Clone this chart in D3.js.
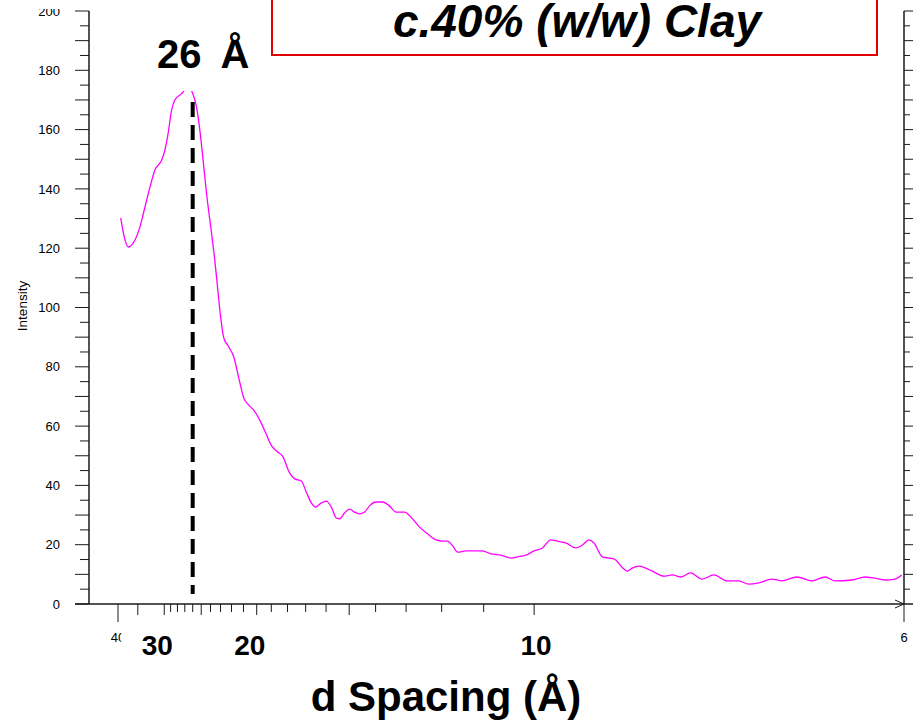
<!DOCTYPE html>
<html>
<head>
<meta charset="utf-8">
<script src="https://cdn.jsdelivr.net/npm/d3@7"></script>
<style>
  body { margin: 0; background: #fff; }
  svg { display: block; font-family: Arial, "Liberation Sans", sans-serif; }
</style>
</head>
<body>
<svg id="chart" width="916" height="722"></svg>
<script>
// XRD trace, intensity against d spacing (angstrom)
const dSpacing = [39.24, 38.08, 37.24, 36.03, 34.53, 33.49, 32.51, 31.59, 30.43, 29.89,
  29.37, 28.85, 28.37, 27.21, 26.67, 26.07, 25.54, 25.16, 24.79, 24.42,
  23.89, 23.56, 23.26, 22.98, 22.69, 22.24, 21.80, 21.38, 20.98, 20.59,
  20.22, 19.79, 19.37, 18.98, 18.60, 18.29, 17.88, 17.59, 17.23, 16.97,
  16.71, 16.50, 16.22, 15.99, 15.76, 15.54, 15.40, 15.19, 14.99, 14.79,
  14.59, 14.40, 14.22, 13.98, 13.75, 13.53, 13.31, 13.05, 12.85, 12.61,
  12.37, 12.15, 11.97, 11.85, 11.72, 11.60, 11.40, 11.03, 10.84, 10.64,
  10.44, 10.31, 10.15, 10.00, 9.853, 9.708, 9.598, 9.461, 9.302, 9.201,
  9.100, 9.026, 8.906, 8.811, 8.742, 8.607, 8.563, 8.498, 8.411, 8.327,
  8.245, 8.105, 8.008, 7.912, 7.801, 7.676, 7.554, 7.420, 7.306, 7.211,
  7.119, 7.000, 6.913, 6.786, 6.664, 6.559, 6.482, 6.359, 6.263, 6.205,
  6.125, 6.059, 6.015];

const intensity = [130.2, 122.8, 120.4, 121.8, 127.2, 133.9, 140.6, 146.4, 149.7, 153.1,
  158.9, 166.6, 170.0, 172.7, 175.4, 172.7, 167.6, 159.9, 149.7, 138.6,
  125.1, 116.0, 105.9, 96.5, 89.7, 86.7, 83.3, 76.2, 69.5, 67.1,
  65.4, 62.1, 57.7, 53.3, 51.3, 49.9, 44.2, 42.2, 41.5, 37.8,
  34.1, 32.7, 34.1, 34.7, 32.7, 29.0, 28.7, 30.7, 32.0, 31.0,
  30.4, 31.0, 33.1, 34.4, 34.4, 33.1, 31.0, 31.0, 29.3, 26.0,
  23.6, 21.6, 21.2, 21.2, 19.6, 17.5, 17.9, 17.9, 16.9, 16.5,
  15.5, 15.9, 16.5, 17.9, 18.9, 21.6, 21.2, 20.6, 18.9, 19.9,
  21.6, 20.6, 15.9, 15.5, 15.2, 11.8, 11.1, 12.1, 12.8, 12.1,
  11.1, 9.4, 9.8, 9.1, 10.5, 8.4, 9.8, 7.8, 7.8, 6.7,
  7.1, 8.4, 7.8, 9.1, 7.8, 9.1, 7.8, 8.1, 9.1, 8.8,
  8.1, 8.4, 9.8];

const dTicks = [40, 35, 30, 29, 28, 27, 26, 25, 24, 23, 22, 21, 20, 19, 18, 17, 16, 15, 14, 13, 12, 11, 10, 6];
const dEndLabels = [40, 6];
const dBigLabels = [30, 20, 10];
const yTicks = d3.range(0, 201, 5);
const yLabels = d3.range(0, 201, 20);
const peakD = 26;
const peakText = "26 Å";
const titleText = "c.40% (w/w) Clay";

const svg = d3.select("#chart");

// x runs linear in 1/d (i.e. in 2-theta), so d falls off to the right
const inv = d3.scaleLinear().domain([1 / 40, 1 / 6]).range([118, 904]);
const x = d => inv(1 / d);
const y = d3.scaleLinear().domain([0, 200]).range([604, 11]);

const axisCol = "#1a1a1a";

/* left axis */
const left = svg.append("g");
left.append("line")
    .attr("x1", 89).attr("x2", 89)
    .attr("y1", y(200)).attr("y2", y(0))
    .attr("stroke", axisCol).attr("stroke-width", 1.5);
left.selectAll(".tk").data(yTicks).enter().append("line")
    .attr("x1", d => d % 10 === 0 ? 75 : 80).attr("x2", 89)
    .attr("y1", d => y(d)).attr("y2", d => y(d))
    .attr("stroke", axisCol).attr("stroke-width", 1);

svg.append("clipPath").attr("id", "lblclip")
    .append("rect").attr("x", 0).attr("y", 9).attr("width", 80).attr("height", 700);
left.append("g").attr("clip-path", "url(#lblclip)")
  .selectAll("text").data(yLabels).enter().append("text")
    .attr("x", 60).attr("y", d => y(d))
    .attr("dy", "0.36em")
    .attr("text-anchor", "end")
    .style("font-size", "13px")
    .text(d => d);

svg.append("text")
    .attr("transform", "translate(27,306) rotate(-90)")
    .attr("text-anchor", "middle")
    .style("font-size", "13.5px")
    .text("Intensity");

/* right axis, ticks only */
const right = svg.append("g");
right.append("line")
    .attr("x1", 904).attr("x2", 904)
    .attr("y1", y(200)).attr("y2", y(0))
    .attr("stroke", axisCol).attr("stroke-width", 1.5);
right.selectAll(".tk").data(yTicks.filter(v => v > 0)).enter().append("line")
    .attr("x1", 904).attr("x2", d => d % 10 === 0 ? 913 : 910)
    .attr("y1", d => y(d)).attr("y2", d => y(d))
    .attr("stroke", axisCol).attr("stroke-width", 1);

/* bottom axis */
const bottom = svg.append("g");
bottom.append("line")
    .attr("x1", 75).attr("x2", 913)
    .attr("y1", y(0)).attr("y2", y(0))
    .attr("stroke", axisCol).attr("stroke-width", 1.5);
bottom.append("path")
    .attr("d", "M895,600 L904,604 L895,608")
    .attr("fill", "none").attr("stroke", axisCol).attr("stroke-width", 1);
bottom.selectAll(".tk").data(dTicks).enter().append("line")
    .attr("x1", d => x(d)).attr("x2", d => x(d))
    .attr("y1", y(0))
    .attr("y2", d => y(0) + (dEndLabels.includes(d) ? 18 : d % 5 === 0 ? 11 : 8))
    .attr("stroke", axisCol).attr("stroke-width", 1);
bottom.selectAll(".endlbl").data(dEndLabels).enter().append("text")
    .attr("x", d => x(d)).attr("y", 642)
    .attr("text-anchor", "middle")
    .style("font-size", "13px")
    .text(d => d);

/* trace */
const pts = dSpacing.map((d, i) => [d, intensity[i]]);
svg.append("path")
    .datum(pts)
    .attr("fill", "none")
    .attr("stroke", "#ff00ff")
    .attr("stroke-width", 1.3)
    .attr("d", d3.line().x(p => x(p[0])).y(p => y(p[1])).curve(d3.curveMonotoneX));

/* peak marker */
svg.append("line")
    .attr("x1", x(peakD)).attr("x2", x(peakD))
    .attr("y1", 102).attr("y2", 594)
    .attr("stroke", "#000").attr("stroke-width", 4)
    .attr("stroke-dasharray", "15,8");

svg.append("rect")
    .attr("x", 150).attr("y", 28).attr("width", 106).attr("height", 63)
    .attr("fill", "#fff");
svg.append("text")
    .attr("x", 157).attr("y", 68)
    .style("font-size", "40px").style("font-weight", "bold")
    .style("word-spacing", "8px")
    .text(peakText);

/* big d labels under the axis */
const big = svg.append("g");
big.selectAll("rect").data(dBigLabels).enter().append("rect")
    .attr("x", d => x(d) + (d === 10 ? 2 : -7) - 36)
    .attr("y", 626).attr("width", 72).attr("height", 36)
    .attr("fill", "#fff");
big.selectAll("text").data(dBigLabels).enter().append("text")
    .attr("x", d => x(d) + (d === 10 ? 2 : -7))
    .attr("y", 655)
    .attr("text-anchor", "middle")
    .style("font-size", "28px").style("font-weight", "bold")
    .text(d => d);

svg.append("text")
    .attr("x", 446).attr("y", 711)
    .attr("text-anchor", "middle")
    .style("font-size", "42px").style("font-weight", "bold")
    .text("d Spacing (Å)");

/* title box */
svg.append("rect")
    .attr("x", 272).attr("y", -10).attr("width", 605).attr("height", 65)
    .attr("fill", "#fff").attr("stroke", "#e00000").attr("stroke-width", 2);
svg.append("text")
    .attr("x", 577).attr("y", 37)
    .attr("text-anchor", "middle")
    .style("font-size", "46px").style("font-weight", "bold").style("font-style", "italic")
    .text(titleText);
</script>
</body>
</html>
